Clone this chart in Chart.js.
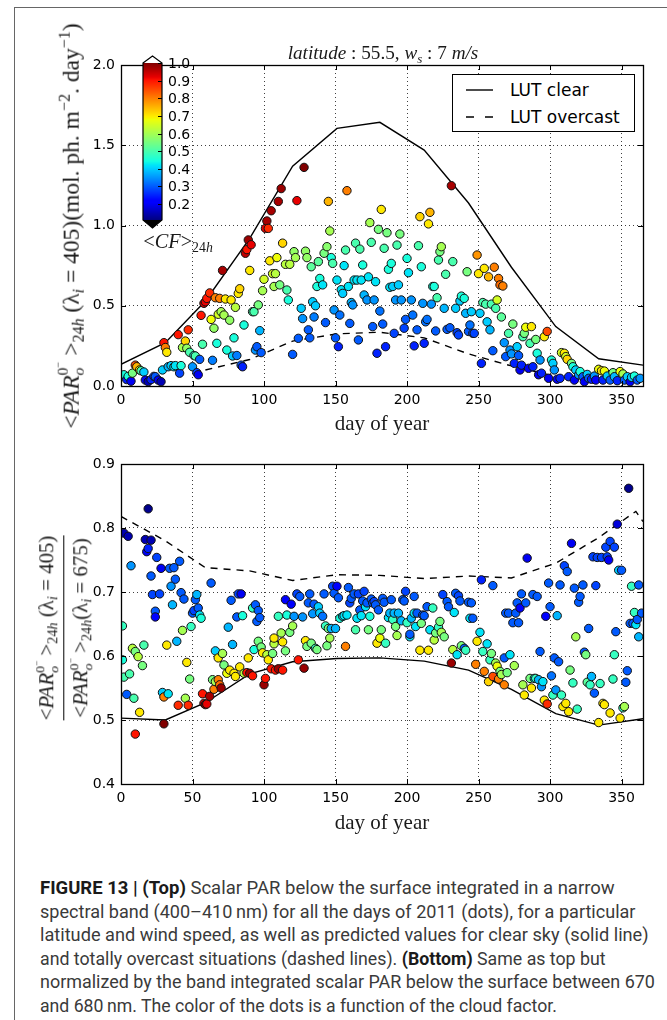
<!DOCTYPE html>
<html><head><meta charset="utf-8">
<title>Figure 13</title>
<script src="https://cdn.jsdelivr.net/npm/chart.js@4.4.1/dist/chart.umd.min.js"></script>
<style>
html,body{margin:0;padding:0;background:#fff;}
body{width:667px;height:1020px;position:relative;overflow:hidden;}
canvas{position:absolute;left:0;}
#c1{top:0;}
#c2{top:440px;}
.frameTop{position:absolute;left:14px;top:7px;width:653px;height:0;border-top:1px solid #666;}
.frameLeft{position:absolute;left:14px;top:7px;width:0;height:1013px;border-left:1px solid #666;}
.ov{position:absolute;white-space:nowrap;color:#1a1a1a;line-height:1;}
.serif{font-family:"Liberation Serif","DejaVu Serif",serif;}
.ov sub,.ov sup{font-size:68%;line-height:0;}
.ov sub{vertical-align:-0.3em;}
.ov sup{vertical-align:0.55em;}
.stk{display:inline-block;vertical-align:-0.35em;font-size:66%;line-height:1.05;text-align:left;}
.stk span{display:block;}
.legend{position:absolute;left:452px;top:74px;width:181px;height:56px;border:1.3px solid #000;background:#fff;font-family:"DejaVu Sans",sans-serif;font-size:17px;}
.legend span{position:absolute;left:57px;transform:translateY(-50%);line-height:1;white-space:nowrap;}
.cap{position:absolute;left:40px;font-family:Roboto,"Liberation Sans",sans-serif;font-size:18px;color:#3a3a3a;white-space:nowrap;transform-origin:left center;line-height:1;}
.cap b{color:#1a1a1a;}
.cbl{position:absolute;left:168px;font-family:"DejaVu Sans",sans-serif;font-size:14px;line-height:1;}
.frac{display:inline-block;text-align:center;}
.frac .bar{border-top:1.2px solid #000;margin:2px 0 3px 0;}
</style></head><body>
<div class="frameTop"></div><div class="frameLeft"></div>
<canvas id="c1" width="667" height="440"></canvas>
<canvas id="c2" width="667" height="420"></canvas>

<div class="ov serif" id="title1" style="font-size:18px;"><i>latitude</i> : 55.5, <i>w</i><sub><i>s</i></sub> : 7 <i>m/s</i></div>
<div class="ov serif" id="ylab1" style="font-size:19px;">&lt;<i>PAR</i><span class="stk"><span>0<sup>−</sup></span><span><i>o</i></span></span> &gt;<sub>24<i>h</i></sub> (λ<sub><i>i</i></sub> = 405)(mol. ph. m<sup>−2</sup>. day<sup>−1</sup>)</div>
<div class="ov serif" id="xlab1" style="font-size:19px;">day of year</div>
<div class="ov serif" id="xlab2" style="font-size:19px;">day of year</div>
<div class="ov serif" id="cflab" style="font-size:18px;">&lt;<i>CF</i>&gt;<sub>24<i>h</i></sub></div>
<div class="ov serif" id="ylab2" style="font-size:16px;"><div class="frac"><div>&lt;<i>PAR</i><span class="stk"><span>0<sup>−</sup></span><span><i>o</i></span></span> &gt;<sub>24<i>h</i></sub> (λ<sub><i>i</i></sub> = 405)</div><div class="bar"></div><div>&lt;<i>PAR</i><span class="stk"><span>0<sup>−</sup></span><span><i>o</i></span></span> &gt;<sub>24<i>h</i></sub>(λ<sub><i>i</i></sub> = 675)</div></div></div>

<div class="legend">
 <svg width="181" height="56" style="position:absolute;left:0;top:0">
  <line x1="13" y1="15" x2="40" y2="15" stroke="#000" stroke-width="1.4"/>
  <line x1="13" y1="42" x2="40" y2="42" stroke="#000" stroke-width="1.4" stroke-dasharray="8,11"/>
 </svg>
 <span style="top:15px">LUT clear</span>
 <span style="top:42px">LUT overcast</span>
</div>
<div id="cbLabels"></div>

<div class="cap" id="cap1"><b>FIGURE 13 | (Top)</b> Scalar PAR below the surface integrated in a narrow</div>
<div class="cap" id="cap2">spectral band (400–410&#8201;nm) for all the days of 2011 (dots), for a particular</div>
<div class="cap" id="cap3">latitude and wind speed, as well as predicted values for clear sky (solid line)</div>
<div class="cap" id="cap4">and totally overcast situations (dashed lines). <b>(Bottom)</b> Same as top but</div>
<div class="cap" id="cap5">normalized by the band integrated scalar PAR below the surface between 670</div>
<div class="cap" id="cap6">and 680&#8201;nm. The color of the dots is a function of the cloud factor.</div>

<script>
// ---------------- DATA ----------------
const xTicks = [0,50,100,150,200,250,300,350];
const topYTicks = [0,0.5,1,1.5,2];
const botYTicks = [0.4,0.5,0.6,0.7,0.8,0.9];
const cbTicks = [1.0,0.9,0.8,0.7,0.6,0.5,0.4,0.3,0.2];

// LUT curves (first day of each month)
const lutDays = [0,31,59,90,120,151,181,212,243,273,304,334,365];
const topClear = [0.135,0.27,0.53,0.92,1.37,1.605,1.643,1.47,1.14,0.74,0.37,0.17,0.13];
const topOvercastDays = [59,90,120,151,181,212,243,273,304];
const topOvercast = [0.10,0.165,0.28,0.325,0.335,0.30,0.20,0.125,0.06];
const botClear = [0.503,0.50,0.527,0.572,0.591,0.596,0.597,0.592,0.578,0.548,0.51,0.492,0.502];
const botOvercastDays = [0,31,59,90,120,151,181,212,243,273,304,334,360,365];
const botOvercast = [0.818,0.78,0.738,0.733,0.718,0.727,0.726,0.721,0.725,0.722,0.745,0.785,0.826,0.81];

// Top panel: daily PAR(405) and cloud factor
const topDays = [
2,4,5,7,8,10,11,13,14,16,
17,19,21,23,24,26,28,29,30,31,
32,33,35,37,38,40,41,42,43,45,
46,47,48,50,51,52,53,54,55,56,
57,58,59,60,62,63,64,65,66,67,
68,69,70,71,72,73,74,76,77,78,
79,80,81,82,83,84,85,86,87,88,
89,90,91,92,93,94,95,96,97,98,
99,100,101,102,103,104,105,106,107,108,
109,110,111,112,113,115,116,117,118,120,
121,122,123,124,126,127,128,129,130,131,
132,133,134,135,136,137,138,139,141,142,
143,144,145,146,147,148,149,150,151,152,
153,154,155,156,157,158,159,160,161,162,
163,164,165,166,167,168,169,170,172,173,
174,175,176,177,178,179,180,181,182,183,
184,185,186,187,188,189,190,191,192,193,
194,195,196,198,199,200,201,203,204,205,
207,208,209,210,211,212,213,214,215,216,
217,218,219,220,221,222,223,224,226,227,
228,230,231,232,234,235,236,237,238,240,
241,242,243,244,245,246,247,249,250,251,
252,253,254,255,256,257,258,259,260,261,
262,263,264,265,266,267,268,269,271,272,
273,274,275,277,278,279,280,281,282,283,
285,286,287,288,290,291,292,293,294,296,
298,299,301,302,303,305,307,308,310,311,
312,313,315,316,317,318,320,321,323,324,
326,327,329,331,332,334,336,337,338,340,
342,344,345,347,349,351,352,354,356,357,
359,361,363];
const topPAR = [
.07,.04,.06,.03,.08,.13,.12,.10,.095,.087,
.037,.027,.04,.06,.058,.037,.027,.10,.27,.24,
.21,.12,.127,.12,.127,.32,.08,.127,.24,.28,
.235,.35,.21,.12,.19,.187,.083,.07,.166,.44,
.26,.515,.525,.546,.58,.415,.16,.36,.55,.266,
.447,.546,.463,.72,.442,.542,.224,.41,.536,.187,
.30,.49,.19,.577,.606,.13,.12,.38,.827,.85,
.91,.72,.88,.463,.463,.224,.245,.505,.345,.208,
.594,.665,.982,1.028,.982,.78,1.092,.70,.62,.70,
.80,1.15,.63,1.23,.89,.758,.598,.536,.758,.197,
.837,.80,1.155,.297,.484,.42,1.362,.84,.80,.35,
.30,.743,.525,.43,.50,.62,.775,.67,.63,.827,
.395,.868,1.15,.966,.80,.764,.474,.30,.66,.245,
.442,.60,.577,.75,.847,1.217,.62,.39,.52,.505,
.66,.89,.66,.287,.853,.66,.754,.567,.536,.68,
1.018,.895,.37,.536,.65,.204,.976,.467,1.10,.386,
.858,.245,.955,.727,.615,.764,.62,.328,.536,.878,
.63,.947,.536,.36,.415,.795,.706,.536,.442,.25,
.35,.874,1.055,.743,.515,.266,.40,.415,1.01,1.082,
.51,.62,.62,.343,.55,.785,.837,.868,.484,.696,
.353,.363,1.248,.775,.484,.332,.318,.53,.56,.546,
.453,.712,.34,.38,.463,.328,.328,.816,.70,.453,
.141,.52,.733,.51,.40,.68,.35,.51,.22,.74,
.484,.536,.67,.63,.43,.623,.27,.183,.328,.224,
.20,.386,.141,.245,.19,.10,.13,.307,.328,.366,
.11,.266,.37,.12,.29,.204,.07,.162,.08,.307,
.34,.048,.162,.141,.10,.042,.048,.208,.204,.183,
.166,.058,.141,.12,.037,.10,.07,.09,.058,.027,
.072,.048,.042,.062,.037,.104,.095,.037,.093,.062,
.037,.083,.058,.033,.09,.075,.037,.058,.027,.054,
.062,.037,.048];
const topCF = [
.45,.25,.45,.2,.55,.85,.75,.68,.5,.4,
.2,.15,.25,.28,.3,.2,.15,.4,.9,.8,
.7,.38,.4,.42,.42,.9,.28,.45,.6,.72,
.58,.88,.5,.35,.45,.5,.28,.2,.3,.9,
.5,.95,.92,.9,.88,.68,.33,.58,.8,.45,
.65,.8,.6,.97,.6,.7,.45,.58,.7,.4,
.45,.62,.33,.7,.72,.3,.25,.45,.95,.9,
.98,.7,.92,.5,.5,.35,.3,.55,.38,.3,
.6,.65,.92,.97,.88,.7,.97,.65,.6,.62,
.68,.97,.55,.98,.72,.62,.5,.45,.62,.3,
.58,.6,.92,.3,.4,.35,1.0,.58,.58,.3,
.3,.52,.4,.33,.4,.45,.52,.45,.42,.55,
.3,.57,.75,.6,.45,.5,.35,.3,.42,.25,
.32,.42,.4,.42,.5,.8,.42,.3,.38,.35,
.42,.5,.42,.3,.5,.42,.45,.38,.35,.42,
.6,.5,.3,.35,.42,.25,.55,.32,.7,.3,
.5,.25,.55,.45,.42,.45,.4,.28,.35,.5,
.4,.55,.35,.28,.3,.45,.42,.35,.32,.25,
.3,.5,.72,.45,.35,.25,.32,.32,.7,.75,
.35,.45,.45,.3,.5,.5,.55,.6,.38,.5,
.3,.3,.97,.5,.4,.28,.28,.4,.45,.45,
.38,.55,.3,.32,.4,.3,.28,.78,.7,.4,
.25,.5,.7,.5,.4,.75,.38,.5,.3,.8,
.5,.65,.8,.82,.52,.8,.35,.3,.5,.35,
.35,.55,.25,.4,.3,.2,.25,.5,.55,.68,
.2,.5,.7,.25,.55,.45,.2,.35,.25,.7,
.85,.2,.45,.4,.35,.2,.25,.65,.7,.65,
.72,.25,.55,.45,.2,.4,.35,.45,.3,.2,
.4,.3,.25,.35,.22,.68,.7,.25,.68,.4,
.3,.55,.38,.25,.68,.6,.3,.4,.2,.4,
.45,.3,.35];

// Bottom panel: ratio PAR(405)/PAR(675) and cloud factor
const botDays = [
1,1,2,2,4,5,6,7,8,9,
10,10,12,13,15,16,17,18,19,19,
21,21,22,24,24,25,27,28,29,30,
30,32,33,34,35,36,37,38,39,40,
41,42,43,44,45,46,47,48,49,50,
51,52,53,54,55,56,57,58,59,60,
62,63,64,65,66,66,68,68,69,70,
71,72,74,75,76,77,78,79,80,81,
82,83,84,85,86,88,89,90,92,92,
93,94,95,96,96,97,98,99,100,101,
102,103,105,106,107,107,108,110,110,112,
113,113,115,115,116,118,119,120,121,123,
124,125,127,128,129,130,131,132,133,134,
135,136,137,138,139,141,142,143,144,145,
146,147,148,149,150,151,152,153,155,156,
157,158,159,160,161,163,164,165,166,167,
168,169,170,171,172,173,174,175,176,177,
178,179,180,181,182,183,184,185,187,188,
189,190,191,192,193,194,196,197,198,199,
200,202,202,203,205,205,206,207,209,210,
211,212,214,215,216,218,219,220,222,223,
224,225,226,228,229,231,232,233,234,235,
236,237,238,240,241,243,244,245,246,248,
249,251,252,253,254,256,257,258,259,260,
260,262,263,264,265,266,268,268,269,270,
271,272,274,275,276,277,278,279,280,281,
282,283,284,286,287,288,289,290,291,292,
293,294,295,296,297,298,299,300,301,302,
303,304,305,306,307,308,309,310,311,312,
313,314,315,316,317,318,319,320,321,323,
324,325,326,327,328,329,330,331,332,333,
334,335,336,337,338,339,340,341,342,342,
344,345,345,346,347,348,349,350,351,352,
353,354,355,356,357,358,359,360,361,362,
362,364];
const botRatio = [
.594,.647,.792,.567,.54,.787,.572,.741,.612,.534,
.478,.607,.599,.512,.585,.617,.782,.763,.83,.768,
.725,.781,.696,.67,.661,.754,.697,.737,.543,.494,
.536,.617,.541,.737,.709,.68,.738,.72,.623,.523,
.748,.699,.64,.689,.534,.59,.523,.564,.646,.667,
.671,.688,.696,.675,.664,.659,.541,.526,.524,.525,
.537,.714,.563,.548,.56,.608,.597,.563,.555,.55,
.604,.586,.573,.645,.578,.687,.618,.573,.568,.661,
.697,.583,.697,.663,.573,.574,.597,.573,.569,.675,
.61,.68,.654,.623,.671,.66,.614,.605,.555,.565,
.602,.594,.58,.604,.619,.628,.578,.58,.662,.636,
.578,.622,.608,.688,.664,.637,.681,.647,.662,.697,
.594,.693,.661,.581,.624,.615,.683,.697,.62,.666,
.681,.612,.61,.677,.667,.662,.697,.647,.616,.643,
.628,.643,.709,.698,.643,.709,.691,.659,.662,.663,
.615,.664,.707,.683,.69,.697,.641,.659,.697,.672,
.663,.686,.701,.677,.683,.641,.662,.689,.683,.685,
.68,.62,.672,.628,.641,.69,.684,.62,.66,.667,
.688,.657,.667,.646,.632,.667,.655,.688,.686,.701,
.652,.63,.634,.659,.667,.693,.646,.667,.609,.651,
.664,.663,.677,.609,.641,.675,.625,.636,.645,.654,
.637,.696,.63,.685,.677,.589,.61,.668,.698,.602,
.694,.686,.616,.612,.609,.684,.659,.683,.659,.587,
.623,.637,.719,.607,.576,.619,.56,.594,.604,.71,
.568,.589,.584,.564,.576,.571,.597,.555,.667,.574,
.667,.602,.652,.585,.667,.683,.652,.675,.697,.555,
.539,.683,.753,.565,.55,.696,.565,.565,.693,.563,
.607,.552,.56,.531,.662,.525,.714,.677,.569,.539,
.597,.547,.663,.591,.711,.539,.521,.741,.526,.732,
.513,.578,.776,.558,.706,.63,.517,.684,.693,.711,
.606,.602,.559,.643,.555,.568,.755,.542,.71,.754,
.496,.557,.754,.526,.524,.77,.755,.75,.779,.511,
.564,.602,.77,.638,.806,.734,.503,.734,.519,.521,
.559,.577,.862,.651,.709,.651,.668,.649,.657,.711,
.63,.667];
const botCF = [
.45,.48,.15,.5,.3,.15,.5,.35,.62,.5,
.9,.55,.62,.7,.55,.5,.15,.2,.12,.25,
.3,.15,.28,.3,.22,.28,.28,.2,.4,1.0,
.8,.7,.42,.3,.35,.38,.3,.3,.38,.88,
.3,.3,.6,.3,.6,.7,.88,.55,.48,.3,
.28,.3,.38,.3,.42,.45,.9,.95,1.0,.92,
.97,.3,.55,.8,.6,.4,.7,.8,.82,.98,
.6,.55,.68,.38,.7,.3,.38,.7,.7,.3,
.28,.7,.2,.45,.62,.9,.7,.98,.9,.48,
.45,.3,.3,.55,.3,.3,.55,.7,.98,.9,
.62,.7,.9,.55,.62,.7,.9,.98,.48,.6,
.9,.7,.55,.22,.45,.55,.22,.6,.35,.28,
.9,.3,.35,.98,.7,.55,.3,.3,.55,.35,
.3,.48,.55,.4,.4,.32,.3,.48,.55,.55,
.6,.38,.28,.3,.38,.22,.3,.45,.42,.42,
.8,.42,.3,.28,.3,.3,.5,.42,.28,.3,
.42,.3,.28,.42,.3,.55,.45,.3,.3,.28,
.3,.7,.3,.68,.55,.3,.3,.48,.42,.38,
.3,.48,.38,.55,.6,.38,.38,.3,.3,.28,
.48,.42,.3,.38,.42,.3,.42,.3,.7,.55,
.3,.3,.3,.7,.42,.48,.62,.55,.48,.55,
.6,.28,.55,.3,.3,.98,.62,.42,.3,.42,
.28,.3,.55,.3,.48,.3,.42,.3,.3,.8,
.7,.42,.25,.48,.8,.42,.72,.48,.55,.3,
.85,.6,.68,.8,.55,.6,.3,.8,.3,.55,
.3,.42,.3,.6,.3,.3,.3,.22,.3,.6,
.7,.3,.2,.55,.7,.3,.42,.48,.3,.38,
.3,.35,.42,.7,.22,.88,.3,.3,.32,.48,
.3,.35,.38,.3,.3,.48,.7,.28,.7,.3,
.7,.55,.2,.48,.3,.6,.48,.3,.3,.3,
.3,.55,.52,.3,.48,.38,.28,.3,.28,.28,
.7,.48,.28,.7,.7,.28,.28,.2,.28,.7,
.48,.48,.28,.3,.18,.4,.7,.3,.48,.6,
.3,.3,.12,.3,.48,.3,.48,.42,.3,.3,
.38,.3];

// ---------------- STYLE / HELPERS ----------------
const CB = {x:143, w:19, top:63, bottom:220, vmin:0.11, vmax:1.0};
const JR=[[0,0],[0.35,0],[0.66,1],[0.89,1],[1,0.5]];
const JG=[[0,0],[0.125,0],[0.375,1],[0.64,1],[0.91,0],[1,0]];
const JB=[[0,0.5],[0.11,1],[0.34,1],[0.65,0],[1,0]];
function interp(p,x){for(let i=1;i<p.length;i++){if(x<=p[i][0]){const a=p[i-1],b=p[i];return a[1]+(b[1]-a[1])*(x-a[0])/(b[0]-a[0]);}}return p[p.length-1][1];}
function jet(v){let t=(v-CB.vmin)/(CB.vmax-CB.vmin);t=Math.max(0,Math.min(1,t));
  return 'rgb('+Math.round(interp(JR,t)*255)+','+Math.round(interp(JG,t)*255)+','+Math.round(interp(JB,t)*255)+')';}
function pts(xs,ys){const n=Math.min(xs.length,ys.length);const o=[];for(let i=0;i<n;i++)o.push({x:xs[i],y:ys[i]});return o;}
function cbY(v){return CB.top+(CB.vmax-v)/(CB.vmax-CB.vmin)*(CB.bottom-CB.top);}

const framePlugin = {
  id:'frame',
  afterDatasetsDraw(chart){
    const {ctx, chartArea:a, scales:{x,y}} = chart;
    ctx.save();
    ctx.strokeStyle='#000'; ctx.lineWidth=1;
    ctx.beginPath();
    x.ticks.forEach(t=>{const px=Math.round(x.getPixelForValue(t.value))+0.5;
      ctx.moveTo(px,a.bottom);ctx.lineTo(px,a.bottom-5);ctx.moveTo(px,a.top);ctx.lineTo(px,a.top+5);});
    y.ticks.forEach(t=>{const py=Math.round(y.getPixelForValue(t.value))+0.5;
      ctx.moveTo(a.left,py);ctx.lineTo(a.left+5,py);ctx.moveTo(a.right,py);ctx.lineTo(a.right-5,py);});
    ctx.stroke();
    ctx.lineWidth=1.3;
    ctx.strokeRect(Math.round(a.left)+0.5, Math.round(a.top)+0.5, Math.round(a.right-a.left), Math.round(a.bottom-a.top));
    ctx.restore();
  }
};
const colorbarPlugin = {
  id:'colorbar',
  afterDraw(chart){
    const ctx=chart.ctx; const {x,w,top,bottom}=CB; const h=bottom-top;
    ctx.save();
    for(let i=0;i<h;i++){const v=CB.vmax-(i+0.5)/h*(CB.vmax-CB.vmin);ctx.fillStyle=jet(v);ctx.fillRect(x,top+i,w,1);}
    ctx.beginPath();ctx.moveTo(x,top);ctx.lineTo(x+w/2,top-7);ctx.lineTo(x+w,top);ctx.closePath();ctx.fillStyle='#fff';ctx.fill();
    ctx.beginPath();ctx.moveTo(x,bottom);ctx.lineTo(x+w/2,bottom+8);ctx.lineTo(x+w,bottom);ctx.closePath();ctx.fillStyle='#000';ctx.fill();
    ctx.beginPath();ctx.moveTo(x,top);ctx.lineTo(x+w/2,top-7);ctx.lineTo(x+w,top);ctx.lineTo(x+w,bottom);ctx.lineTo(x+w/2,bottom+8);ctx.lineTo(x,bottom);ctx.closePath();
    ctx.strokeStyle='#000';ctx.lineWidth=1.2;ctx.stroke();
    ctx.beginPath();ctx.lineWidth=1;
    cbTicks.forEach(v=>{const py=Math.round(cbY(v))+0.5;ctx.moveTo(x+w-4,py);ctx.lineTo(x+w,py);});
    ctx.stroke();
    ctx.restore();
  }
};

function makeOptions(yMin,yMax,yTicks,padTop,xHeight){
  const tickFont={family:'DejaVu Sans',size:14};
  const grid={color:'rgba(0,0,0,0.75)',lineWidth:1,drawTicks:false};
  return {
    responsive:false, animation:false, devicePixelRatio:1, events:[],
    layout:{padding:{top:padTop,right:24,left:0,bottom:0}},
    plugins:{legend:{display:false},tooltip:{enabled:false},title:{display:false}},
    scales:{
      x:{type:'linear',min:0,max:365,
         afterBuildTicks:s=>{s.ticks=xTicks.map(v=>({value:v}));},
         afterFit:s=>{s.height=xHeight;},
         grid:grid, border:{display:false,dash:[1,3]},
         ticks:{padding:6,color:'#000',font:tickFont,maxRotation:0,autoSkip:false,callback:v=>String(v)}},
      y:{type:'linear',min:yMin,max:yMax,
         afterBuildTicks:s=>{s.ticks=yTicks.map(v=>({value:v}));},
         afterFit:s=>{s.width=121;},
         grid:grid, border:{display:false,dash:[1,3]},
         ticks:{padding:6,color:'#000',font:tickFont,autoSkip:false,callback:v=>Number(v).toFixed(1)}}
    }
  };
}
function scatterDS(xs,ys,cf){
  return {label:'days',data:pts(xs,ys),showLine:false,pointRadius:4.2,pointBorderWidth:1,
    pointBorderColor:'#111',pointBackgroundColor:cf.map(jet),order:0,clip:0};
}
function lineDS(label,xs,ys,dash){
  return {label:label,data:pts(xs,ys),showLine:true,pointRadius:0,borderColor:'#000',borderWidth:1.4,
    borderDash:dash,fill:false,tension:0,order:1,clip:0};
}

new Chart(document.getElementById('c1'),{
  type:'scatter',
  data:{datasets:[
    scatterDS(topDays,topPAR,topCF),
    lineDS('LUT clear',lutDays,topClear,[]),
    lineDS('LUT overcast',topOvercastDays,topOvercast,[7,6])
  ]},
  options:makeOptions(0,2,topYTicks,65,54),
  plugins:[framePlugin,colorbarPlugin]
});
new Chart(document.getElementById('c2'),{
  type:'scatter',
  data:{datasets:[
    scatterDS(botDays,botRatio,botCF),
    lineDS('LUT clear',lutDays,botClear,[]),
    lineDS('LUT overcast',botOvercastDays,botOvercast,[7,6])
  ]},
  options:makeOptions(0.4,0.9,botYTicks,24,76),
  plugins:[framePlugin]
});

// ---------------- TEXT PLACEMENT ----------------
// size the font so the natural width is close to the target, then fine-tune with scaleX
function place(id,cx,cy,target,rot){
  const el=document.getElementById(id);
  el.style.left=cx+'px'; el.style.top=cy+'px';
  if(target){
    const fs=parseFloat(el.style.fontSize)||16;
    const w0=el.offsetWidth;
    const nfs=Math.max(10,Math.min(fs*1.25,fs*target/w0));
    el.style.fontSize=nfs+'px';
  }
  const w=el.offsetWidth; const k=target?target/w:1;
  el.style.transform='translate(-50%,-50%)'+(rot?' rotate(-90deg)':'')+' scaleX('+k+')';
}
place('title1',383,53,191,false);
place('ylab1',71,226,405,true);
place('xlab1',382,424,94,false);
place('xlab2',382,823,94,false);
place('cflab',178,241,70,false);
place('ylab2',64,628,185,true);

const cbl=document.getElementById('cbLabels');
cbTicks.forEach(v=>{const s=document.createElement('div');s.className='cbl';s.textContent=v.toFixed(1);
  s.style.top=(cbY(v)-7)+'px';cbl.appendChild(s);});

const capW=[575,596,609,566,615,517];
const capY=[888,912,935,959,982,1006];
capW.forEach((w,i)=>{const el=document.getElementById('cap'+(i+1));
  el.style.top=capY[i]+'px';const k=w/el.offsetWidth;
  el.style.transform='translateY(-50%) scaleX('+k+')';});
</script>
</body></html>
